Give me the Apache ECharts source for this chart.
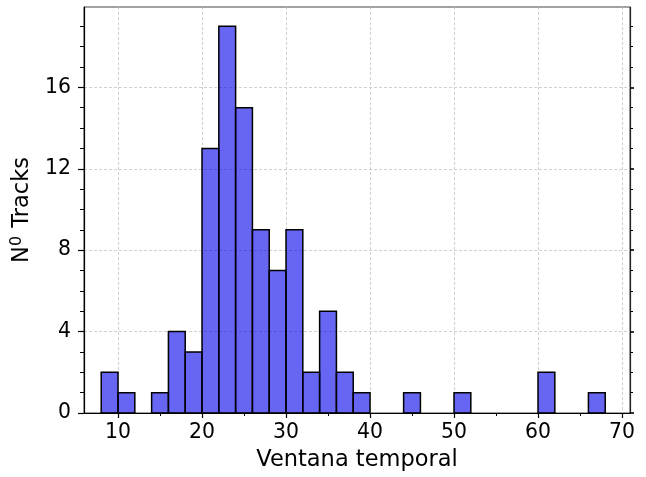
<!DOCTYPE html>
<html>
<head>
<meta charset="utf-8">
<script src="https://cdn.jsdelivr.net/npm/echarts@6/dist/echarts.min.js"></script>
<style>
  html, body { margin: 0; padding: 0; background: #fff; }
  #chart { width: 646px; height: 477px; }
</style>
</head>
<body>
<div id="chart"></div>
<script>
// histogram bins (left edge) and counts, bin width 2
const binStarts = [8, 10, 14, 16, 18, 20, 22, 24, 26, 28, 30, 32, 34, 36, 38, 44, 50, 60, 66];
const counts = [2, 1, 1, 4, 3, 13, 19, 15, 9, 7, 9, 2, 5, 2, 1, 1, 1, 2, 1];
const binWidth = 2;

const xMajorTicks = [10, 20, 30, 40, 50, 60, 70];
const xMinorTicks = [15, 25, 35, 45, 55, 65];
const yMajorTicks = [0, 4, 8, 12, 16];
const yMinorTicks = [1, 2, 3, 5, 6, 7, 9, 10, 11, 13, 14, 15, 17, 18, 19];

const xMin = 5.95, xMax = 70.95;
const yMin = 0, yMax = 19.95;

const FONT = "DejaVu Sans";
const TICK_SIZE = 20.4;
const NAME_SIZE = 22.5;
const gridDash = { color: "#c4c4c4", width: 0.8, type: [3, 2] };

const histData = binStarts.map((s, i) => [s, s + binWidth, counts[i]]);

const chart = echarts.init(document.getElementById("chart"));

const baseX = (extra) => Object.assign({
  type: "value",
  min: xMin,
  max: xMax,
  gridIndex: 0
}, extra);

const baseY = (extra) => Object.assign({
  type: "value",
  min: yMin,
  max: yMax,
  gridIndex: 0
}, extra);

chart.setOption({
  animation: false,
  backgroundColor: "#fff",
  textStyle: { fontFamily: FONT },
  grid: {
    left: 84,
    top: 7,
    width: 546,
    height: 407,
    show: true,
    borderColor: "#444",
    borderWidth: 1
  },
  xAxis: [
    baseX({
      position: "bottom",
      name: "Ventana temporal",
      nameLocation: "middle",
      nameGap: 36,
      nameTextStyle: { fontSize: NAME_SIZE, color: "#000", fontFamily: FONT },
      axisLine: { show: true, onZero: false, lineStyle: { color: "#000", width: 1.2 } },
      axisTick: { show: true, customValues: xMajorTicks, length: 5, lineStyle: { color: "#000", width: 1.2 } },
      axisLabel: { customValues: xMajorTicks, fontSize: TICK_SIZE, color: "#000", margin: 10, fontFamily: FONT },
      splitLine: { show: true, lineStyle: gridDash }
    }),
    baseX({
      position: "bottom",
      axisLine: { show: false },
      axisTick: { show: true, customValues: xMinorTicks, length: 3, lineStyle: { color: "#000", width: 1 } },
      axisLabel: { show: false },
      splitLine: { show: false }
    })
  ],
  yAxis: [
    baseY({
      position: "left",
      name: "N{sup|0} Tracks",
      nameLocation: "middle",
      nameGap: 47,
      nameTextStyle: {
        fontSize: NAME_SIZE,
        color: "#000",
        fontFamily: FONT,
        rich: {
          sup: { fontSize: 16, color: "#000", fontFamily: FONT, padding: [0, 1, 11, 0] }
        }
      },
      axisLine: { show: true, onZero: false, lineStyle: { color: "#000", width: 1.2 } },
      axisTick: { show: true, customValues: yMajorTicks, length: 6, lineStyle: { color: "#000", width: 1.2 } },
      axisLabel: { customValues: yMajorTicks, fontSize: TICK_SIZE, color: "#000", margin: 13, fontFamily: FONT },
      splitLine: { show: true, lineStyle: gridDash }
    }),
    baseY({
      position: "left",
      axisLine: { show: false },
      axisTick: { show: true, customValues: yMinorTicks, length: 4, lineStyle: { color: "#000", width: 1 } },
      axisLabel: { show: false },
      splitLine: { show: false }
    }),
    baseY({
      position: "right",
      axisLine: { show: true, onZero: false, lineStyle: { color: "#222", width: 1.2 } },
      axisTick: { show: true, customValues: yMajorTicks, length: 4, lineStyle: { color: "#000", width: 1.6 } },
      axisLabel: { show: false },
      splitLine: { show: false }
    }),
    baseY({
      position: "right",
      axisLine: { show: false },
      axisTick: { show: true, customValues: yMinorTicks, length: 3, lineStyle: { color: "#000", width: 1 } },
      axisLabel: { show: false },
      splitLine: { show: false }
    })
  ],
  series: [
    {
      type: "custom",
      xAxisIndex: 0,
      yAxisIndex: 0,
      encode: { x: [0, 1], y: 2 },
      data: histData,
      renderItem: (params, api) => {
        const p0 = api.coord([api.value(0), 0]);
        const p1 = api.coord([api.value(1), api.value(2)]);
        return {
          type: "rect",
          shape: { x: p0[0], y: p1[1], width: p1[0] - p0[0], height: p0[1] - p1[1] },
          style: { fill: "rgba(0, 0, 235, 0.6)", stroke: "#000", lineWidth: 1.5 }
        };
      }
    }
  ]
});
</script>
</body>
</html>
